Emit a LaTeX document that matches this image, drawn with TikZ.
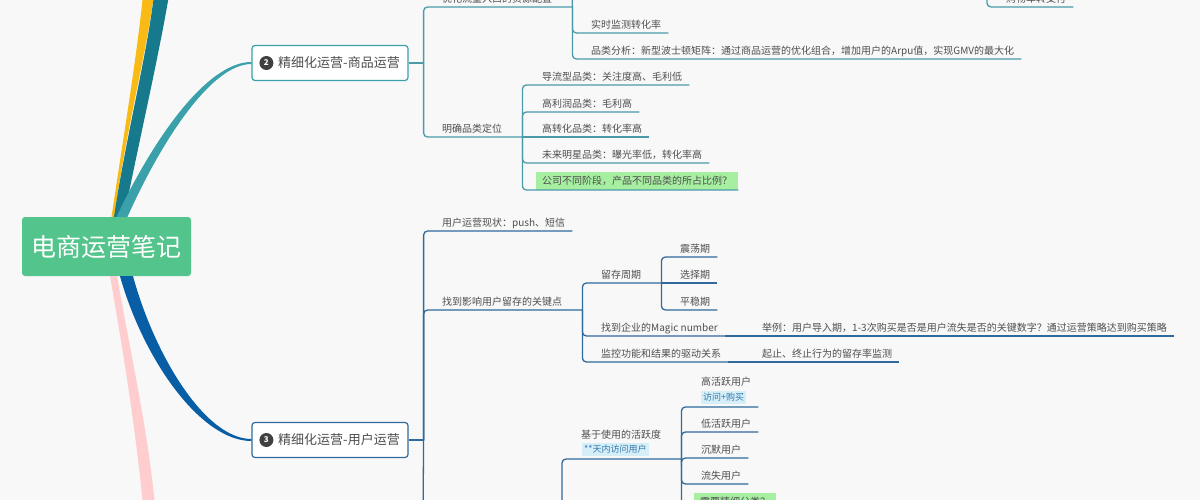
\documentclass[tikz,border=0pt]{standalone}
\usepackage{fontspec}
\setmainfont{Noto Sans CJK SC}
\usetikzlibrary{positioning}
\definecolor{bgpaper}{RGB}{248,248,248}
\definecolor{rootgreen}{RGB}{82,196,140}
\definecolor{teal2}{RGB}{58,160,170}
\definecolor{line2}{RGB}{74,154,170}
\definecolor{blue3}{RGB}{8,94,165}
\definecolor{line3}{RGB}{48,106,156}
\definecolor{sunny}{RGB}{250,186,22}
\definecolor{deepteal}{RGB}{22,122,140}
\definecolor{blush}{RGB}{255,205,205}
\definecolor{inkgray}{RGB}{78,78,78}
\definecolor{dotgray}{RGB}{64,64,64}
\definecolor{hilite}{RGB}{166,238,160}
\definecolor{tagblue}{RGB}{214,238,248}
\definecolor{tagtext}{RGB}{52,122,172}

\begin{document}
\begin{tikzpicture}[
  x=1pt, y=-1pt,
  root/.style={fill=rootgreen, rounded corners=3pt, minimum width=169pt, minimum height=59pt, inner sep=0pt, text=white, font=\fontsize{25}{30}\selectfont},
  topic/.style={fill=white, rounded corners=3pt, line width=1.2pt, minimum width=156pt, minimum height=35pt, inner xsep=0pt, text=inkgray, font=\fontsize{13}{15}\selectfont},
  numdot/.style={circle, fill=dotgray, text=white, minimum size=14pt, inner sep=0pt, font=\fontsize{8}{8}\selectfont\bfseries},
  leaf/.style={anchor=south west, inner xsep=7pt, inner ysep=3pt, text height=8pt, text depth=1pt, text=inkgray, font=\fontsize{10}{12}\selectfont},
  hl/.style={leaf, fill=hilite, inner xsep=6pt, inner ysep=4.5pt},
  tag/.style={anchor=north west, fill=tagblue, text=tagtext, inner xsep=2pt, inner ysep=2pt, text height=7.5pt, text depth=1.5pt, font=\fontsize{9}{10}\selectfont},
  ln2/.style={draw=line2, line width=1.3pt, rounded corners=4pt},
  ln3/.style={draw=line3, line width=1.3pt, rounded corners=4pt}
]
\useasboundingbox (0,0) rectangle (1200,500);
\clip (0,0) rectangle (1200,500);
\fill[bgpaper] (0,0) rectangle (1200,500);

\node[root] (root) at (106.5,246.5) {电商运营笔记};

\node[topic, draw=teal2] (b2) at (330,63) {\hspace*{18pt}精细化运营-商品运营};
\node[numdot] (b2n) at ([xshift=15pt]b2.west) {2};
\node[topic, draw=line3] (b3) at (330,440) {\hspace*{18pt}精细化运营-用户运营};
\node[numdot] (b3n) at ([xshift=15pt]b3.west) {3};

% branches off the root
\coordinate (upA) at (143,-5);
\coordinate (upB) at (154,-5);
\coordinate (upC) at (169,-5);
\coordinate (downA) at (143,505);
\coordinate (downB) at (155,505);
\fill[sunny] ([xshift=5pt]root.north) .. controls +(12,-80) and +(-6,60) .. (upA) -- (upB) .. controls +(-8,60) and +(10,-80) .. ([xshift=8pt]root.north) -- cycle;
\fill[deepteal] ([xshift=7.5pt]root.north) .. controls +(12,-80) and +(-7,60) .. (upB) -- (upC) .. controls +(-10,60) and +(16,-80) .. ([xshift=17.5pt]root.north) -- cycle;
\fill[teal2] ([xshift=10pt]root.north) .. controls +(38,-80) and +(-44,0) .. ([yshift=1pt]b2.west) -- ([yshift=-1pt]b2.west) .. controls +(-40,0) and +(34,-76) .. ([xshift=21pt]root.north) -- cycle;
\fill[blue3] ([xshift=13.5pt]root.south) .. controls +(24,85) and +(-50,0) .. ([yshift=-1pt]b3.west) -- ([yshift=1pt]b3.west) .. controls +(-46,0) and +(22,80) .. ([xshift=26.5pt]root.south) -- cycle;
\fill[blush] ([xshift=3.5pt]root.south) .. controls +(14,80) and +(-8,-80) .. (downA) -- (downB) .. controls +(-8,-80) and +(14,80) .. ([xshift=10.5pt]root.south) -- cycle;

% product branch
\coordinate (b2j) at ([xshift=15pt]b2.east);
\node[leaf] (yh) at (435,7) {优化流量入口的资源配置};
\coordinate (yhj) at ([xshift=13pt]yh.south east);
\coordinate (yhup) at (572,-12);
\node[leaf] (ss) at (584,33) {实时监测转化率};
\node[leaf] (pl) at (584,59) {品类分析：新型波士顿矩阵：通过商品运营的优化组合，增加用户的Arpu值，实现GMV的最大化};
\node[leaf] (mq) at (435,137) {明确品类定位};
\coordinate (mqj) at ([xshift=13pt]mq.south east);
\node[leaf] (dl) at (535,85) {导流型品类：关注度高、毛利低};
\node[leaf] (gl) at (535,112) {高利润品类：毛利高};
\node[leaf] (gz) at (535,137) {高转化品类：转化率高};
\node[leaf] (wl) at (535,163) {未来明星品类：曝光率低，转化率高};
\node[hl] (gs) at (536,190) {公司不同阶段，产品不同品类的所占比例？};
\coordinate (gwup) at (987,-12);
\node[leaf] (gw) at (999,7) {购物车转支付};

\draw[ln2] (b2.east) -- (b2j);
\draw[ln2] (b2j) |- (yhj);
\draw[ln2] (b2j) |- (mqj);
\draw[ln2] (yhj) -- (yhup);
\draw[ln2] (yhj) |- (ss.south east);
\draw[ln2] (yhj) |- (pl.south east);
\draw[ln2] (mqj) |- (dl.south east);
\draw[ln2] (mqj) |- (gl.south east);
\draw[ln2] (mqj) -- (gz.south east);
\draw[ln2] (mqj) |- (wl.south east);
\draw[ln2] (mqj) |- (gs.south east);
\draw[ln2] (gwup) |- (gw.south east);

% user branch
\coordinate (b3j) at ([xshift=15pt]b3.east);
\coordinate (b3down) at (423,520);
\node[leaf] (yy) at (435,231) {用户运营现状：push、短信};
\node[leaf] (gj) at (435,310) {找到影响用户留存的关键点};
\coordinate (gjj) at ([xshift=13pt]gj.south east);
\node[leaf] (lc) at (594,283) {留存周期};
\coordinate (lcj) at ([xshift=13pt]lc.south east);
\node[leaf] (zd) at (673,257) {震荡期};
\node[leaf] (xz) at (673,283) {选择期};
\node[leaf] (pw) at (673,310) {平稳期};
\node[leaf] (mn) at (594,336) {找到企业的Magic number};
\node[leaf] (jl) at (755,336) {举例：用户导入期，1-3次购买是否是用户流失是否的关键数字？通过运营策略达到购买策略};
\node[leaf] (jk) at (594,362) {监控功能和结果的驱动关系};
\node[leaf] (qz) at (755,362) {起止、终止行为的留存率监测};
\coordinate (hyfrom) at (562,520);
\node[leaf] (hy) at (574,443) {基于使用的活跃度};
\node[tag, below right=0pt and 8pt of hy.south west] (hyl) {**天内访问用户};
\coordinate (hyj) at ([xshift=13pt,yshift=-16pt]hy.south east);
\node[leaf] (gh) at (694,390) {高活跃用户};
\node[tag, below right=1pt and 7pt of gh.south west] (ghl) {访问+购买};
\coordinate (ghe) at ([yshift=-17pt]gh.south east);
\node[leaf] (dh) at (694,432) {低活跃用户};
\node[leaf] (cm) at (694,458) {沉默用户};
\node[leaf] (ls) at (694,484) {流失用户};
\node[hl] (gx) at (694,511) {需要精细分类？};

\draw[ln3] (b3.east) -- (b3j);
\draw[ln3] (b3j) -- (b3down);
\draw[ln3] (b3j) |- (yy.south east);
\draw[ln3] (b3j) |- (gjj);
\draw[ln3] (gjj) |- (lcj);
\draw[ln3] (gjj) |- (mn.south east);
\draw[ln3] (gjj) |- (jk.south east);
\draw[ln3] (lcj) |- (zd.south east);
\draw[ln3] (lcj) -- (xz.south east);
\draw[ln3] (lcj) |- (pw.south east);
\draw[ln3] (mn.south east) -- (jl.south east);
\draw[ln3] (jk.south east) -- (qz.south east);
\draw[ln3] (hyfrom) |- (hyj);
\draw[ln3] (hyj) |- (ghe);
\draw[ln3] (hyj) |- (dh.south east);
\draw[ln3] (hyj) |- (cm.south east);
\draw[ln3] (hyj) |- (ls.south east);
\draw[ln3] (hyj) |- (gx.south east);
\end{tikzpicture}
\end{document}
